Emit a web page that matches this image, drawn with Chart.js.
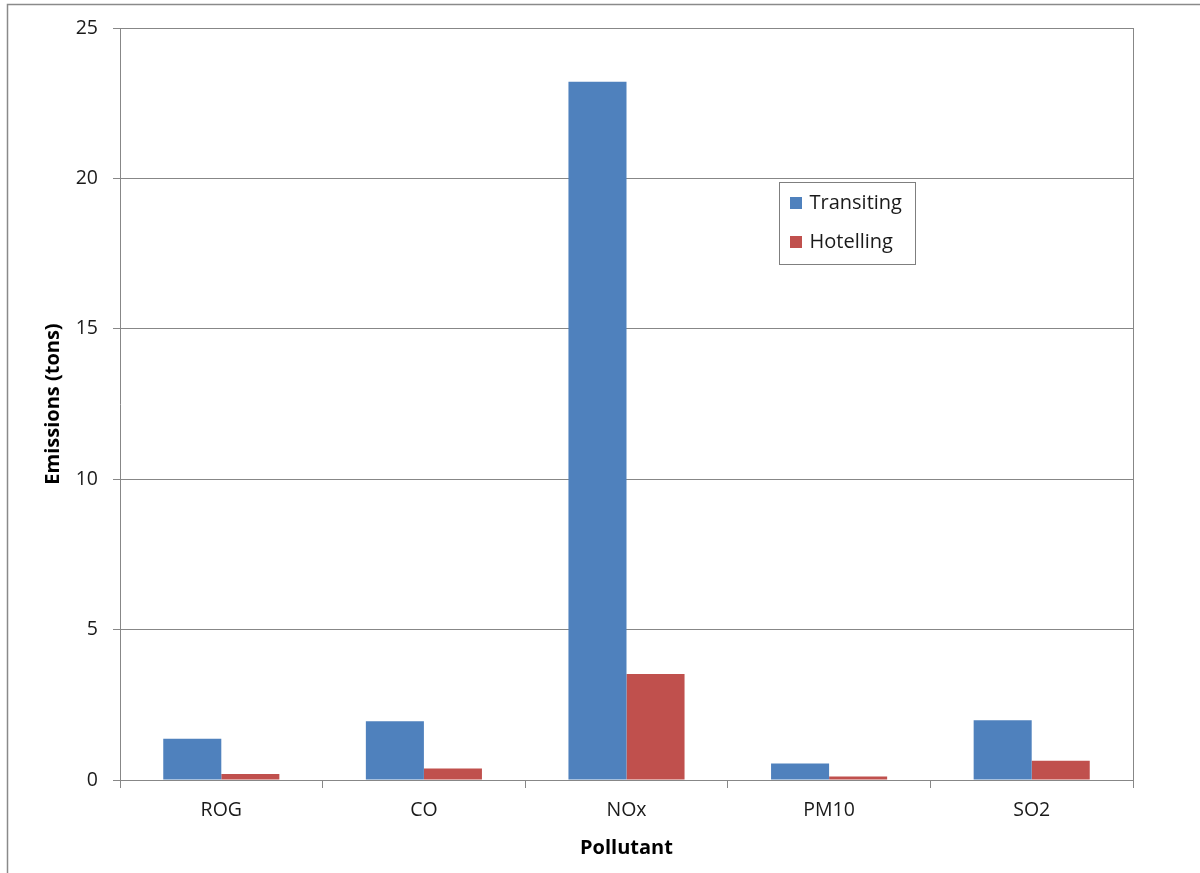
<!DOCTYPE html>
<html>
<head>
<meta charset="utf-8">
<title>Emissions by Pollutant</title>
<script src="https://cdn.jsdelivr.net/npm/chart.js@4.4.1/dist/chart.umd.min.js"></script>
<style>
  html, body { margin: 0; padding: 0; background: #fff; }
  #wrap { width: 1200px; height: 873px; position: relative; }
</style>
</head>
<body>
<div id="wrap"><canvas id="c" width="1200" height="873"></canvas></div>
<script>
// Emissions per pollutant, in tons
const categories = ['ROG', 'CO', 'NOx', 'PM10', 'SO2'];
const transiting = [1.37, 1.95, 23.21, 0.55, 1.99];
const hotelling = [0.20, 0.38, 3.52, 0.12, 0.64];
const seriesNames = ['Transiting', 'Hotelling'];
const yTicks = [0, 5, 10, 15, 20, 25];

const FONT = '"Open Sans", "DejaVu Sans", sans-serif';
const GRID = '#878787';
const COLORS = ['#4F81BD', '#C0504D'];

// Outer frame around the whole chart object
const framePlugin = {
  id: 'frame',
  beforeDraw(chart) {
    const ctx = chart.ctx;
    ctx.save();
    ctx.strokeStyle = '#8a8a8a';
    ctx.lineWidth = 1.5;
    ctx.strokeRect(7.5, 4.5, 1300, 1000);
    ctx.restore();
  },
  afterDatasetsDraw(chart) {
    // right edge of the plot area
    const { chartArea, ctx } = chart;
    ctx.save();
    ctx.strokeStyle = GRID;
    ctx.lineWidth = 1;
    ctx.beginPath();
    ctx.moveTo(Math.round(chartArea.right) + 0.5, chartArea.top);
    ctx.lineTo(Math.round(chartArea.right) + 0.5, chartArea.bottom);
    ctx.stroke();
    ctx.restore();
  }
};

// Boxed legend placed inside the plot area
const boxLegend = {
  id: 'boxLegend',
  afterDraw(chart) {
    const ctx = chart.ctx;
    const x = 779.5, y = 182.5, w = 136, h = 82;
    ctx.save();
    ctx.fillStyle = '#fff';
    ctx.fillRect(x, y, w, h);
    ctx.strokeStyle = '#7f7f7f';
    ctx.lineWidth = 1;
    ctx.strokeRect(x, y, w, h);
    ctx.font = '20px ' + FONT;
    ctx.textBaseline = 'middle';
    chart.data.datasets.forEach((ds, i) => {
      const cy = y + 20.5 + i * 39;
      ctx.fillStyle = ds.backgroundColor;
      ctx.fillRect(x + 10.5, cy - 6, 12, 12);
      ctx.fillStyle = '#1a1a1a';
      ctx.fillText(ds.label, x + 30, cy);
    });
    ctx.restore();
  }
};

new Chart(document.getElementById('c'), {
  type: 'bar',
  data: {
    labels: categories,
    datasets: [
      { label: seriesNames[0], data: transiting, backgroundColor: COLORS[0] },
      { label: seriesNames[1], data: hotelling, backgroundColor: COLORS[1] }
    ]
  },
  options: {
    responsive: false,
    animation: false,
    devicePixelRatio: 1,
    layout: { padding: { left: 0, right: 67, top: 28, bottom: 0 } },
    plugins: {
      legend: { display: false },
      tooltip: { enabled: false }
    },
    datasets: {
      bar: { categoryPercentage: 0.573, barPercentage: 1.0 }
    },
    scales: {
      x: {
        grid: {
          offset: true,
          drawOnChartArea: false,
          drawTicks: true,
          tickLength: 8,
          color: GRID
        },
        border: { color: GRID, width: 1 },
        ticks: {
          color: '#1a1a1a',
          font: { family: FONT, size: 19.5 },
          padding: 11
        },
        title: {
          display: true,
          text: 'Pollutant',
          color: '#000',
          font: { family: FONT, size: 20, weight: 'bold' },
          padding: { top: 0, bottom: 13 }
        },
        afterFit(scale) { scale.height = 93; }
      },
      y: {
        min: 0,
        max: 25,
        afterBuildTicks(scale) { scale.ticks = yTicks.map(v => ({ value: v })); },
        grid: {
          color: GRID,
          tickLength: 7
        },
        border: { color: GRID, width: 1 },
        ticks: {
          color: '#1a1a1a',
          font: { family: FONT, size: 19.5 },
          padding: 15
        },
        title: {
          display: true,
          text: 'Emissions (tons)',
          color: '#000',
          font: { family: FONT, size: 20, weight: 'bold' },
          padding: { top: 41, bottom: 0 }
        },
        afterFit(scale) { scale.width = 120; }
      }
    }
  },
  plugins: [framePlugin, boxLegend]
});
</script>
</body>
</html>
